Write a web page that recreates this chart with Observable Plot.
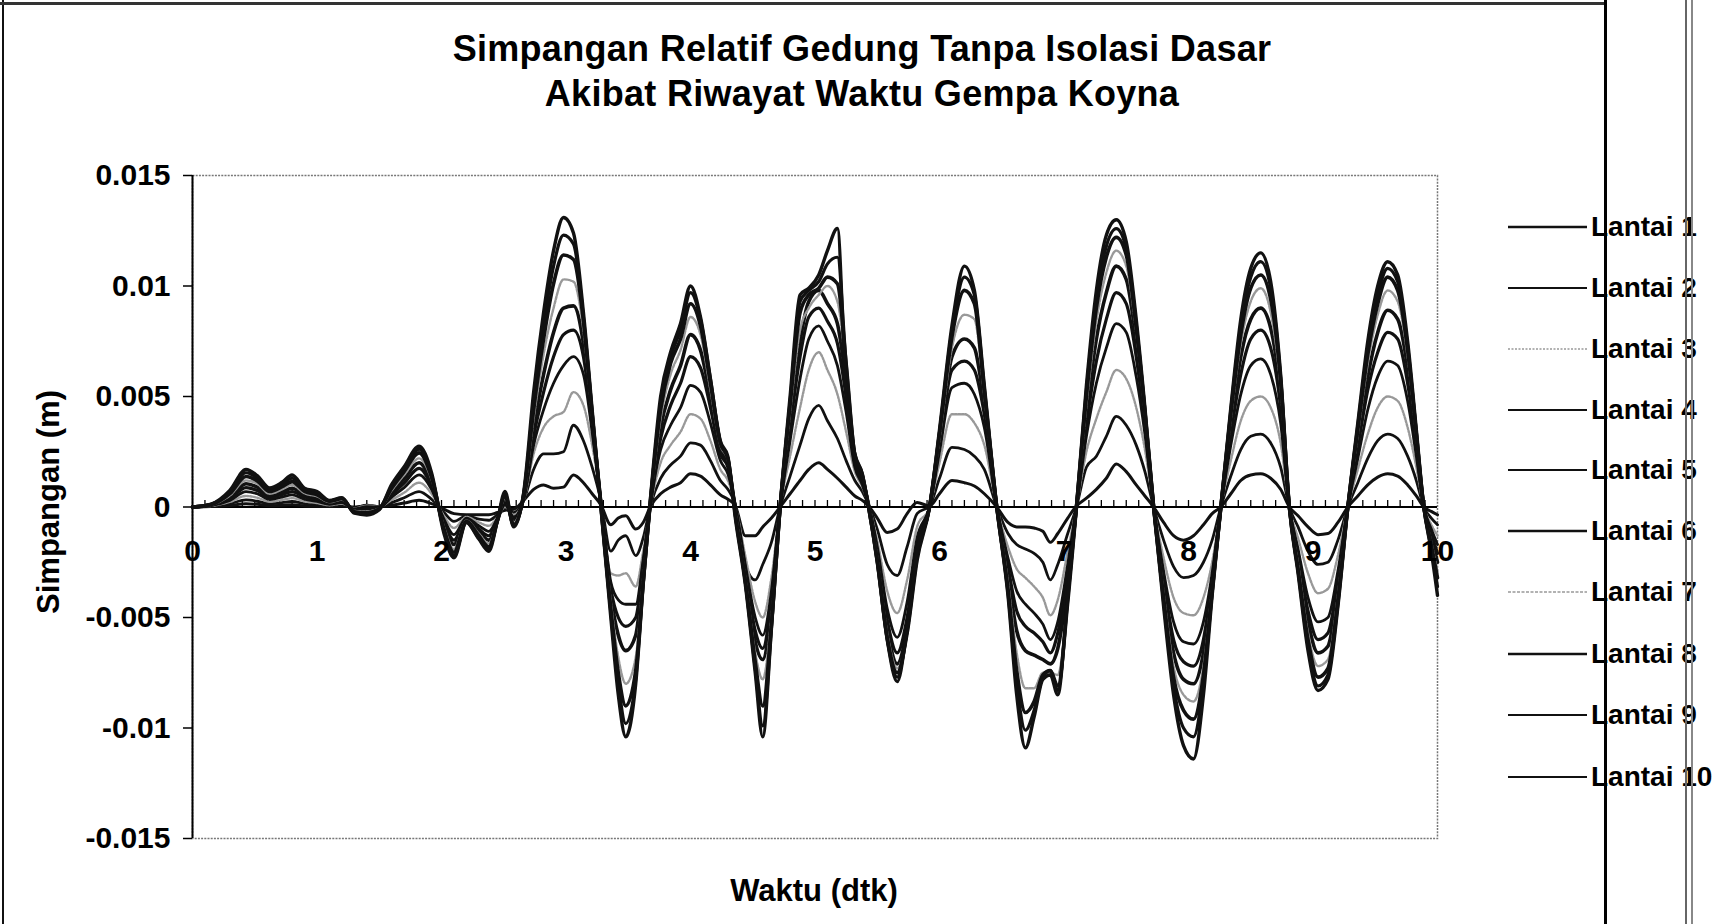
<!DOCTYPE html>
<html>
<head>
<meta charset="utf-8">
<script src="https://cdn.jsdelivr.net/npm/d3@7"></script>
<script src="https://cdn.jsdelivr.net/npm/@observablehq/plot@0.6"></script>
<style>
  html, body { margin: 0; padding: 0; background: #fff; }
  #wrap { position: relative; width: 1720px; height: 924px; overflow: hidden; background: #fff;
          font-family: "Liberation Sans", Arial, sans-serif; color: #000; }
  #chart { position: absolute; left: 0; top: 0; }
  .title { position: absolute; left: 0; top: 26px; width: 1724px; text-align: center;
           font-weight: bold; font-size: 36px; line-height: 45px; letter-spacing: 0.3px; }
  .ylabel { position: absolute; left: 49px; top: 502px; transform: translate(-50%, -50%) rotate(-90deg);
            font-weight: bold; font-size: 31px; white-space: nowrap; }
  .xlabel { position: absolute; left: 814px; top: 891px; transform: translate(-50%, -50%);
            font-weight: bold; font-size: 31px; white-space: nowrap; }
  #legend { position: absolute; left: 1508px; top: 0; }
  .item { position: absolute; left: 0; height: 40px; display: flex; align-items: center; white-space: nowrap; }
  .item span { font-weight: bold; font-size: 28px; margin-left: 4px; }
  .deco { position: absolute; z-index: 5; }
  #warn { position: absolute; left: 10px; top: 880px; color: red; font-size: 14px; }
</style>
</head>
<body>
<div id="wrap">
  <div id="chart"></div>
  <div class="title">Simpangan Relatif Gedung Tanpa Isolasi Dasar<br>Akibat Riwayat Waktu Gempa Koyna</div>
  <div class="ylabel">Simpangan (m)</div>
  <div class="xlabel">Waktu (dtk)</div>
  <div id="legend"></div>
  <div class="deco" style="left:2px;top:0;width:2px;height:924px;background:#111"></div>
  <div class="deco" style="left:0;top:2px;width:1606px;height:3px;background:#333"></div>
  <div class="deco" style="left:1604px;top:0;width:3px;height:924px;background:#000"></div>
  <div class="deco" style="left:1685px;top:0;width:1.5px;height:924px;background:#666"></div>
  <div class="deco" style="left:1691px;top:0;width:1.5px;height:924px;background:#888"></div>
  <div id="warn"></div>
</div>
<script>
// ---- Data (displacement values in units of 0.001 m) ----
const floors = ["Lantai 1","Lantai 2","Lantai 3","Lantai 4","Lantai 5","Lantai 6","Lantai 7","Lantai 8","Lantai 9","Lantai 10"];

const waktu = [
  0,0.15,0.3,0.43,0.52,0.62,0.72,0.8,0.9,1.0,1.1,1.2,1.3,1.4,1.5,1.6,1.7,1.82,1.92,2.02,2.1,2.2,2.3,2.38,2.45,2.51,2.58,2.66,
  2.74,2.82,2.9,2.98,3.06,3.14,3.21,3.28,
  3.36,3.42,3.48,3.56,3.62,3.68,
  3.76,3.84,3.92,4.0,4.08,4.16,4.24,4.3,4.36,
  4.44,4.52,4.58,4.65,4.72,
  4.8,4.88,4.95,5.03,5.1,5.18,5.25,5.32,5.38,5.43,
  5.5,5.58,5.66,5.74,5.82,5.92,
  6.0,6.1,6.2,6.28,6.36,6.46,
  6.55,6.62,6.69,6.76,6.83,6.89,6.95,7.03,7.1,
  7.18,7.26,7.34,7.42,7.5,7.58,7.65,7.72,
  7.8,7.88,7.96,8.04,8.12,8.19,8.26,
  8.34,8.42,8.5,8.58,8.66,8.74,8.81,
  8.88,8.96,9.04,9.12,9.2,9.28,
  9.36,9.44,9.52,9.6,9.68,9.76,9.83,9.89,9.95,10
];

const lantai1 = [
  0,.02,.07,.15,.12,.06,.08,.1,.05,.03,.02,.05,0,.05,.02,.08,.18,.3,.15,-.1,-.3,-.35,-.35,-.35,-.25,-.15,-.1,.3,
  .8,1.0,.85,.9,1.45,1.1,.6,.1,
  -.8,-.5,-.4,-1.0,-.7,.05,
  .6,.9,1.1,1.5,1.4,1.0,.55,.35,.05,
  -1.3,-1.3,-.9,-.5,0,
  .6,1.2,1.7,2.0,1.7,1.3,.9,.5,.3,.05,
  -.5,-1.15,-1.0,-.3,.2,.05,
  .6,1.2,1.1,.95,.6,0,
  -.7,-.9,-.9,-.95,-1.1,-1.6,-1.2,-.5,.05,
  .4,.8,1.3,1.95,1.6,1.0,.5,0,
  -.7,-1.3,-1.5,-1.3,-.8,-.3,0,
  .6,1.2,1.45,1.5,1.3,.8,0,
  -.4,-.9,-1.25,-1.2,-.7,0,
  .5,1.0,1.35,1.5,1.4,1.0,.5,0,-.2,-.35
];
const lantai2 = [
  0,.04,.15,.32,.26,.14,.2,.25,.15,.1,.05,.1,-.03,.08,.03,.2,.42,.7,.35,-.25,-.65,-.4,-.55,-.6,-.35,-.1,-.25,.3,
  1.7,2.4,2.4,2.5,3.7,3.0,1.8,.3,
  -2.0,-1.5,-1.3,-2.2,-1.4,.1,
  1.3,1.9,2.3,2.9,2.8,2.1,1.2,.8,.1,
  -2.6,-3.3,-2.6,-1.6,0,
  1.4,2.8,4.0,4.6,3.9,3.1,2.1,1.2,.7,.1,
  -1.0,-2.6,-3.1,-1.8,-.3,.05,
  1.3,2.7,2.6,2.3,1.7,0,
  -1.2,-1.7,-1.9,-2.1,-2.5,-3.3,-2.6,-1.2,0,
  1.8,2.3,3.2,4.1,3.7,2.8,1.6,0,
  -1.5,-2.7,-3.2,-3.1,-2.5,-1.5,0,
  1.4,2.6,3.2,3.3,2.9,1.8,0,
  -.9,-2.0,-2.6,-2.5,-1.5,0,
  1.1,2.2,3.0,3.3,3.1,2.3,1.2,0,-.5,-.8
];
const lantai3 = [
  0,.05,.23,.5,.42,.24,.32,.4,.25,.18,.08,.15,-.06,.06,.02,.32,.65,1.1,.6,-.4,-.95,-.45,-.7,-.85,-.45,0,-.35,.3,
  2.4,3.6,4.1,4.3,5.2,4.6,2.8,.3,
  -3.0,-3.1,-3.0,-3.6,-2.0,.1,
  2.0,2.8,3.4,4.2,4.0,3.0,1.7,1.2,.1,
  -2.2,-4.3,-5.0,-3.2,0,
  2.3,4.5,6.2,7.0,6.2,5.1,3.4,1.6,.9,.1,
  -1.5,-3.8,-4.8,-3.3,-.9,0,
  2.0,4.2,4.2,3.8,2.8,0,
  -1.8,-2.8,-3.2,-3.6,-4.1,-4.9,-4.2,-2.0,0,
  2.5,4.0,5.2,6.2,5.8,4.5,2.6,0,
  -2.3,-4.1,-4.8,-4.9,-4.1,-2.5,0,
  2.1,3.9,4.8,5.0,4.5,2.9,0,
  -1.4,-3.0,-3.9,-3.7,-2.2,0,
  1.7,3.3,4.5,5.0,4.8,3.6,1.8,0,-.8,-1.3
];
const lantai4 = [
  0,.07,.3,.7,.6,.34,.45,.55,.35,.25,.12,.2,-.09,.02,0,.45,.88,1.45,.8,-.55,-1.25,-.5,-.85,-1.1,-.5,.1,-.45,.35,
  2.8,4.4,5.6,6.4,6.8,6.0,3.4,.3,
  -3.4,-4.2,-4.4,-4.4,-2.4,.2,
  2.6,3.7,4.5,5.5,5.2,3.8,2.1,1.5,.1,
  -2.6,-5.0,-5.8,-3.8,0,
  3.0,5.8,7.6,8.2,7.5,6.4,4.3,1.8,1.0,.1,
  -1.8,-4.6,-5.9,-4.3,-1.4,0,
  2.5,5.4,5.6,5.1,3.6,0,
  -2.3,-3.8,-4.4,-4.8,-5.3,-6.0,-5.2,-2.6,0,
  3.2,5.6,7.2,8.3,7.9,5.9,3.3,0,
  -2.9,-5.2,-6.1,-6.2,-5.2,-3.0,0,
  2.8,5.1,6.4,6.7,6.0,3.8,0,
  -1.9,-4.1,-5.2,-5.0,-2.9,0,
  2.2,4.4,5.9,6.6,6.4,4.8,2.3,0,-1.0,-1.7
];
const lantai5 = [
  0,.08,.38,.88,.75,.43,.57,.7,.45,.33,.15,.25,-.12,-.05,-.02,.55,1.08,1.75,.95,-.7,-1.5,-.55,-1.0,-1.3,-.55,.2,-.55,.4,
  3.2,5.2,6.8,7.8,8.0,6.8,3.7,.2,
  -3.7,-5.0,-5.4,-5.0,-2.6,.2,
  3.1,4.6,5.6,6.8,6.3,4.5,2.4,1.8,0,
  -2.8,-5.6,-6.4,-4.2,0,
  3.6,6.8,8.6,9.0,8.4,7.4,5.0,2.0,1.2,.1,
  -2.0,-5.1,-6.6,-5.0,-1.8,0,
  2.8,6.2,6.6,6.2,4.2,0,
  -2.7,-4.7,-5.4,-5.7,-6.1,-6.6,-5.7,-3.0,0,
  3.7,6.6,8.5,9.7,9.2,6.8,3.7,0,
  -3.3,-6.0,-7.0,-7.2,-6.0,-3.3,0,
  3.3,6.0,7.6,8.0,7.2,4.5,0,
  -2.1,-4.7,-6.0,-5.7,-3.3,0,
  2.7,5.3,7.0,7.9,7.6,5.6,2.7,0,-1.2,-2.1
];
const lantai6 = [
  0,.09,.45,1.05,.9,.52,.68,.85,.55,.4,.18,.3,-.15,-.12,-.04,.65,1.28,2.0,1.1,-.8,-1.7,-.6,-1.1,-1.5,-.6,.3,-.65,.45,
  3.6,6.0,7.9,9.0,9.1,7.4,3.9,.2,
  -4.0,-5.8,-6.5,-5.8,-2.9,.3,
  3.6,5.3,6.4,7.8,7.1,5.0,2.6,2.0,-.1,
  -3.0,-6.1,-6.9,-4.6,0,
  4.0,7.5,9.3,9.8,9.2,8.3,5.7,2.2,1.3,.1,
  -2.2,-5.5,-7.1,-5.5,-2.2,0,
  3.0,6.8,7.6,7.2,4.6,0,
  -3.1,-5.6,-6.5,-6.7,-6.9,-7.1,-6.4,-3.5,0,
  4.2,7.6,9.7,10.9,10.3,7.5,4.0,0,
  -3.6,-6.6,-7.8,-8.0,-6.6,-3.5,0,
  3.7,6.8,8.5,9.0,8.1,5.0,0,
  -2.4,-5.2,-6.6,-6.3,-3.7,0,
  3.0,5.9,7.9,8.9,8.5,6.3,3.0,0,-1.4,-2.5
];
const lantai7 = [
  0,.1,.52,1.2,1.05,.6,.8,1.0,.62,.48,.22,.33,-.18,-.2,-.06,.75,1.45,2.2,1.25,-.9,-1.9,-.62,-1.2,-1.65,-.6,.4,-.7,.5,
  4.0,6.9,9.0,10.3,10.2,8.0,4.1,.1,
  -4.3,-6.8,-8.0,-6.8,-3.2,.3,
  4.0,6.0,7.1,8.6,7.8,5.3,2.8,2.1,-.2,
  -3.2,-6.6,-7.8,-5.0,0,
  4.3,8.0,9.0,9.6,10.0,9.3,6.2,2.5,1.5,.1,
  -2.3,-5.7,-7.3,-5.8,-2.5,0,
  3.1,7.2,8.7,8.5,5.0,0,
  -3.4,-6.6,-8.2,-8.2,-7.5,-7.5,-7.6,-4.2,0,
  4.6,8.4,10.6,11.6,10.9,7.9,4.2,0,
  -3.9,-7.2,-8.5,-8.8,-7.2,-3.7,0,
  4.0,7.4,9.3,9.9,8.8,5.4,0,
  -2.6,-5.7,-7.2,-6.9,-4.0,0,
  3.3,6.5,8.7,9.8,9.3,6.8,3.2,0,-1.6,-2.9
];
const lantai8 = [
  0,.11,.6,1.38,1.18,.7,.92,1.15,.7,.55,.26,.37,-.22,-.26,-.08,.85,1.6,2.45,1.35,-1.0,-2.05,-.65,-1.3,-1.8,-.6,.5,-.8,.55,
  4.4,7.6,10.1,11.4,11.2,8.4,4.2,.1,
  -4.6,-7.5,-9.0,-7.4,-3.4,.4,
  4.4,6.5,7.6,9.2,8.2,5.6,2.9,2.2,-.3,
  -3.3,-7.0,-9.0,-5.3,0,
  4.6,8.8,9.6,9.9,10.4,10.1,6.5,2.3,1.4,0,
  -2.4,-5.9,-7.5,-5.7,-2.4,0,
  3.3,7.7,9.8,9.2,5.2,0,
  -3.7,-7.4,-9.3,-8.8,-7.6,-7.4,-8.1,-4.3,0,
  5.0,9.0,11.3,12.2,11.4,8.1,4.3,0,
  -4.1,-7.7,-9.2,-9.6,-7.6,-3.8,0,
  4.2,7.8,9.9,10.5,9.4,5.7,0,
  -2.8,-6.0,-7.7,-7.3,-4.2,0,
  3.5,6.9,9.2,10.4,9.8,7.1,3.3,0,-1.7,-3.2
];
const lantai9 = [
  0,.12,.68,1.55,1.3,.78,1.02,1.3,.78,.62,.28,.4,-.25,-.32,-.1,.95,1.72,2.62,1.45,-1.1,-2.2,-.7,-1.4,-1.9,-.6,.6,-.85,.6,
  4.8,8.2,10.9,12.3,11.9,8.6,4.3,0,
  -4.8,-8.0,-9.8,-7.8,-3.5,.4,
  4.7,6.8,8.0,9.7,8.5,5.8,3.0,2.3,-.4,
  -3.4,-7.3,-9.9,-5.5,0,
  4.8,9.3,9.8,10.2,11.0,11.3,6.5,2.4,1.5,0,
  -2.5,-6.0,-7.7,-5.6,-2.2,0,
  3.4,8.0,10.4,9.6,5.4,0,
  -3.9,-8.0,-10.1,-9.2,-7.7,-7.4,-8.3,-4.2,0,
  5.3,9.4,11.8,12.6,11.7,8.3,4.4,0,
  -4.3,-8.1,-10.0,-10.4,-8.0,-3.9,0,
  4.4,8.2,10.4,11.1,9.9,5.9,0,
  -2.9,-6.3,-8.1,-7.6,-4.4,0,
  3.7,7.2,9.6,10.8,10.2,7.3,3.4,0,-1.9,-3.6
];
const lantai10 = [
  0,.13,.75,1.7,1.42,.86,1.12,1.45,.85,.7,.3,.42,-.28,-.36,-.12,1.02,1.82,2.75,1.55,-1.2,-2.3,-.7,-1.45,-2.0,-.6,.7,-.9,.65,
  5.2,8.8,11.6,13.1,12.4,8.8,4.4,0,
  -5.0,-8.5,-10.4,-8.0,-3.5,.5,
  5.0,7.0,8.3,10.0,8.6,5.8,2.9,2.2,-.5,
  -3.5,-7.5,-10.4,-5.5,0,
  5.0,9.6,9.9,10.5,11.6,12.6,5.0,2.4,1.5,0,
  -2.5,-6.0,-7.9,-5.5,-2.0,0,
  3.5,8.2,10.9,9.8,5.5,0,
  -4.0,-8.5,-10.9,-9.5,-7.8,-7.6,-8.5,-4.0,0,
  5.5,9.8,12.3,13.0,12.0,8.5,4.5,0,
  -4.5,-8.5,-10.8,-11.4,-8.5,-4.0,0,
  4.5,8.5,10.8,11.5,10.2,6.0,0,
  -3.0,-6.5,-8.3,-7.8,-4.5,0,
  3.8,7.5,10.0,11.1,10.5,7.5,3.5,0,-2.0,-4.0
];

const yTicks = [-0.015, -0.01, -0.005, 0, 0.005, 0.01, 0.015];
const xTicks = [0, 1, 2, 3, 4, 5, 6, 7, 8, 9, 10];

// ---- Styles (kept apart from data) ----
const seriesStyles = [
  {stroke: "#111", width: 3.0, dash: null},
  {stroke: "#111", width: 2.8, dash: null},
  {stroke: "#999", width: 2.4, dash: "2,1.5"},
  {stroke: "#111", width: 2.8, dash: null},
  {stroke: "#111", width: 3.2, dash: null},
  {stroke: "#111", width: 3.6, dash: null},
  {stroke: "#999", width: 2.4, dash: "3,1.5"},
  {stroke: "#111", width: 3.6, dash: null},
  {stroke: "#111", width: 3.2, dash: null},
  {stroke: "#111", width: 3.4, dash: null}
];

const series = [lantai1, lantai2, lantai3, lantai4, lantai5, lantai6, lantai7, lantai8, lantai9, lantai10];
const bad = series.map((s, i) => s.length !== waktu.length ? `${floors[i]}: ${s.length}/${waktu.length}` : null).filter(Boolean);
if (bad.length) document.getElementById("warn").textContent = "Length mismatch " + bad.join(", ");

const rows = [];
series.forEach((s, i) => s.forEach((v, j) => rows.push({t: waktu[j], v: v / 1000, floor: floors[i]})));

const minorTicks = d3.range(1, 100).map(i => i / 10);
const tickUp = { draw(ctx) { ctx.moveTo(0, 0); ctx.lineTo(0, -7); } };

const lineMarks = floors.map((f, i) => Plot.line(rows.filter(r => r.floor === f), {
  x: "t", y: "v", curve: "monotone-x",
  stroke: seriesStyles[i].stroke, strokeWidth: seriesStyles[i].width,
  strokeDasharray: seriesStyles[i].dash, strokeLinejoin: "round", strokeLinecap: "round"
}));

const chart = Plot.plot({
  width: 1720, height: 924,
  marginLeft: 192, marginRight: 283, marginTop: 175, marginBottom: 86,
  x: {domain: [0, 10], axis: null},
  y: {domain: [-0.015, 0.015]},
  style: {fontFamily: "'Liberation Sans', Arial, sans-serif", background: "transparent", color: "#000"},
  marks: [
    Plot.frame({stroke: "#777", strokeDasharray: "2,1.2", strokeWidth: 1.5}),
    Plot.axisY(yTicks, {tickSize: 9, tickPadding: 13, tickFormat: d => String(d), fontSize: 30, fontWeight: "bold", label: null, strokeWidth: 1.5}),
    Plot.ruleX([0], {stroke: "#000", strokeWidth: 2}),
    Plot.ruleY([0], {stroke: "#000", strokeWidth: 2}),
    Plot.dot(minorTicks, {x: d => d, y: () => 0, symbol: tickUp, r: 3, stroke: "#000", fill: "none", strokeWidth: 1.3}),
    ...lineMarks,
    Plot.text(xTicks, {x: d => d, y: () => 0, dy: 44, text: d => String(d), fontSize: 30, fontWeight: "bold", fill: "#000"})
  ]
});
document.getElementById("chart").appendChild(chart);

// ---- Legend ----
const legendCenters = [227, 288, 349, 410, 470, 531, 592, 654, 715, 777];
const legendWidths = [2.4, 2.2, 1.6, 2.0, 2.2, 2.6, 1.6, 2.6, 2.2, 2.0];
const legend = document.getElementById("legend");
floors.forEach((f, i) => {
  const st = seriesStyles[i];
  const item = document.createElement("div");
  item.className = "item";
  item.style.top = (legendCenters[i] - 20) + "px";
  item.innerHTML = `<svg width="79" height="10"><line x1="0" y1="5" x2="79" y2="5" stroke="${st.stroke}" stroke-width="${legendWidths[i]}" ${st.dash ? `stroke-dasharray="${st.dash}"` : ""}/></svg><span>${f}</span>`;
  legend.appendChild(item);
});
</script>
</body>
</html>
